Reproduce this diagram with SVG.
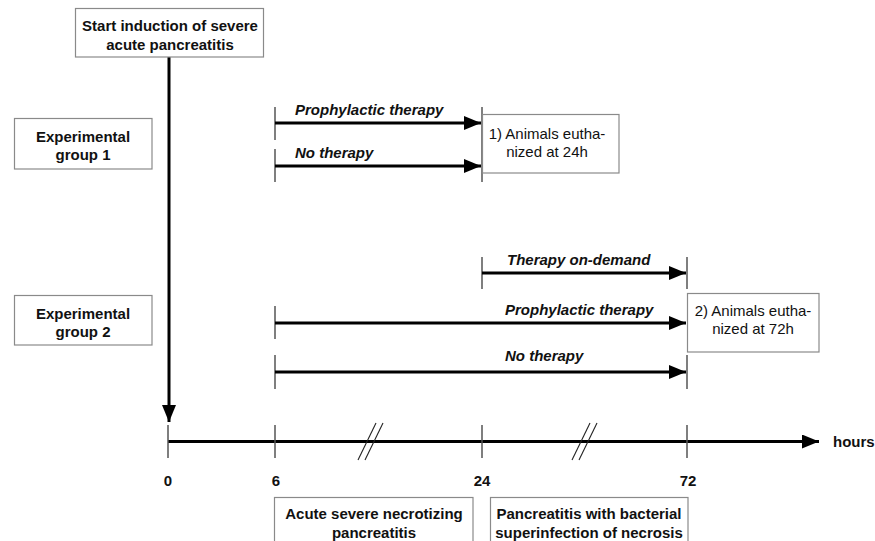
<svg xmlns="http://www.w3.org/2000/svg" width="875" height="541" viewBox="0 0 875 541">
<defs>
<marker id="ah" viewBox="0 0 17 14" refX="17" refY="7" markerWidth="17" markerHeight="14" markerUnits="userSpaceOnUse" orient="auto">
<path d="M0,0 L17,7 L0,14 Z" fill="#000"/>
</marker>
</defs>
<style>
.box{fill:#fff;stroke:#8a8a8a;stroke-width:1.2}
.b{font-family:"Liberation Sans",Arial,sans-serif;font-weight:bold;font-size:15px;fill:#111}
.r{font-family:"Liberation Sans",Arial,sans-serif;font-size:15px;fill:#111}
.bi{font-family:"Liberation Sans",Arial,sans-serif;font-weight:bold;font-style:italic;font-size:15px;fill:#111}
.arr{stroke:#000;stroke-width:3;fill:none;marker-end:url(#ah)}
.tick{stroke:#555;stroke-width:1.5}
.brk{stroke:#222;stroke-width:1.1}
</style>
<rect width="875" height="541" fill="#fff"/>

<g id="connectors">
<line class="arr" x1="169" y1="57" x2="169" y2="422"/>
<line class="arr" x1="168" y1="441.5" x2="819" y2="441.5"/>
<line class="tick" x1="168" y1="425" x2="168" y2="458"/>
<line class="tick" x1="275" y1="425" x2="275" y2="458"/>
<line class="tick" x1="482" y1="425" x2="482" y2="458"/>
<line class="tick" x1="687" y1="425" x2="687" y2="458"/>
<line class="brk" x1="358" y1="460" x2="376" y2="423"/>
<line class="brk" x1="365" y1="460" x2="383" y2="423"/>
<line class="brk" x1="572" y1="460" x2="590" y2="423"/>
<line class="brk" x1="579" y1="460" x2="597" y2="423"/>

<line class="tick" x1="275" y1="107" x2="275" y2="140"/>
<line class="arr" x1="275" y1="123" x2="481" y2="123"/>
<line class="tick" x1="275" y1="149" x2="275" y2="182"/>
<line class="arr" x1="275" y1="166" x2="481" y2="166"/>
<line class="tick" x1="482" y1="107" x2="482" y2="182"/>

<line class="tick" x1="482" y1="257" x2="482" y2="289"/>
<line class="arr" x1="482" y1="273" x2="686" y2="273"/>
<line class="tick" x1="687" y1="257" x2="687" y2="289"/>
<line class="tick" x1="275" y1="306" x2="275" y2="339"/>
<line class="arr" x1="275" y1="323" x2="686" y2="323"/>
<line class="tick" x1="275" y1="355" x2="275" y2="389"/>
<line class="arr" x1="275" y1="372" x2="686" y2="372"/>
<line class="tick" x1="687" y1="355" x2="687" y2="389"/>
</g>

<g id="start">
<rect class="box" x="75.5" y="8.5" width="188" height="48.5"/>
<text class="b" x="170" y="31" text-anchor="middle">Start induction of severe</text>
<text class="b" x="170" y="50" text-anchor="middle">acute pancreatitis</text>
</g>

<g id="group1">
<rect class="box" x="14.5" y="118.5" width="137.5" height="50.5"/>
<text class="b" x="83" y="142" text-anchor="middle">Experimental</text>
<text class="b" x="83" y="160" text-anchor="middle">group 1</text>
</g>

<g id="group2">
<rect class="box" x="14.5" y="295.5" width="137.5" height="49.5"/>
<text class="b" x="83" y="319" text-anchor="middle">Experimental</text>
<text class="b" x="83" y="337" text-anchor="middle">group 2</text>
</g>

<g id="labels-arrows">
<text class="bi" x="295" y="115">Prophylactic therapy</text>
<text class="bi" x="295" y="158">No therapy</text>
<text class="bi" x="507" y="265">Therapy on-demand</text>
<text class="bi" x="505" y="315">Prophylactic therapy</text>
<text class="bi" x="505" y="361">No therapy</text>
</g>

<g id="euth24">
<rect class="box" x="482.5" y="114.5" width="136.5" height="58.5"/>
<text class="r" x="547" y="139" text-anchor="middle">1) Animals eutha-</text>
<text class="r" x="547" y="157" text-anchor="middle">nized at 24h</text>
</g>

<g id="euth72">
<rect class="box" x="687.5" y="293.5" width="131.5" height="58.5"/>
<text class="r" x="753" y="316" text-anchor="middle">2) Animals eutha-</text>
<text class="r" x="753" y="334" text-anchor="middle">nized at 72h</text>
</g>

<g id="axis-labels">
<text class="b" x="168" y="486" text-anchor="middle">0</text>
<text class="b" x="276" y="486" text-anchor="middle">6</text>
<text class="b" x="482" y="486" text-anchor="middle">24</text>
<text class="b" x="688" y="486" text-anchor="middle">72</text>
<text class="b" x="833" y="447">hours</text>
</g>

<g id="phase1">
<rect class="box" x="274.5" y="497.5" width="198.5" height="50"/>
<text class="b" x="374" y="519" text-anchor="middle">Acute severe necrotizing</text>
<text class="b" x="374" y="538" text-anchor="middle">pancreatitis</text>
</g>

<g id="phase2">
<rect class="box" x="490.5" y="497.5" width="197.5" height="50"/>
<text class="b" x="589" y="519" text-anchor="middle">Pancreatitis with bacterial</text>
<text class="b" x="589" y="538" text-anchor="middle">superinfection of necrosis</text>
</g>
</svg>
